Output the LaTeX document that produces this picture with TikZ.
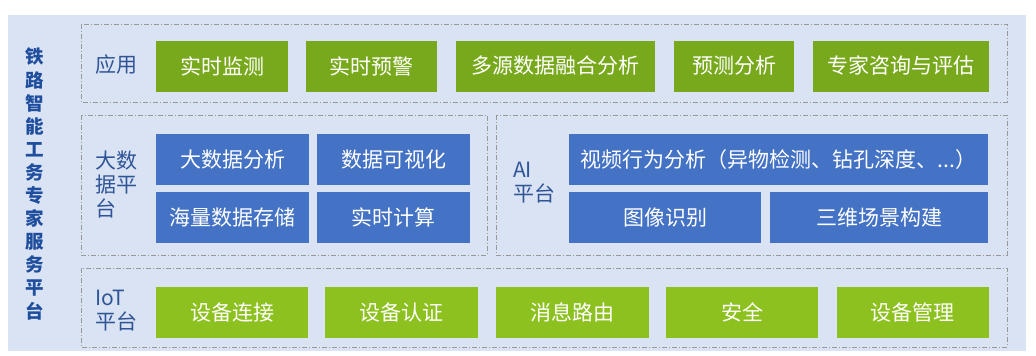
\documentclass[tikz,border=0pt]{standalone}
\usepackage{fontspec}
\setmainfont{Noto Sans CJK SC}
\usetikzlibrary{positioning}

\definecolor{panelblue}{HTML}{DAE3F3}
\definecolor{appgreen}{HTML}{78A91D}
\definecolor{iotgreen}{HTML}{8CC11F}
\definecolor{modblue}{HTML}{4472C4}
\definecolor{labelblue}{HTML}{2F5597}
\definecolor{titleblue}{HTML}{1F4E9E}

\begin{document}
\begin{tikzpicture}[
    x=1pt, y=-1pt,
    node distance=18pt,
    layer/.style={draw=gray!80, line width=0.6pt, dash pattern=on 5pt off 2pt on 1pt off 2pt},
    module/.style={rectangle, inner sep=0pt, minimum height=51pt, text=white, font=\fontsize{21}{24}\selectfont},
    appbox/.style={module, fill=appgreen},
    databox/.style={module, fill=modblue},
    iotbox/.style={module, fill=iotgreen},
    layername/.style={anchor=west, align=left, inner sep=0pt, text=labelblue, font=\fontsize{21}{24}\selectfont}
]
\useasboundingbox (0,0) rectangle (1036,356);

% background panel and layer frames
\fill [panelblue] (8,15) rectangle (1026,351);
\draw [layer] (81,24) rectangle (1007,102);
\draw [layer] (81,115) rectangle (487,255);
\draw [layer] (496,115) rectangle (1007,255);
\draw [layer] (81,268) rectangle (1007,347);

\node [text=titleblue, align=center, inner sep=0pt, font=\bfseries\fontsize{18.5}{23.1}\selectfont] (title) at (35,184)
    {铁\\路\\智\\能\\工\\务\\专\\家\\服\\务\\平\\台};

% application layer
\node [layername] (app) at (95,65) {应用};
\node [appbox, minimum width=132pt] (monitor) at (222,66) {实时监测};
\node [appbox, minimum width=131pt, right=of monitor] (warning) {实时预警};
\node [appbox, minimum width=199pt, right=of warning] (fusion) {多源数据融合分析};
\node [appbox, minimum width=120pt, right=19pt of fusion] (forecast) {预测分析};
\node [appbox, minimum width=176pt, right=of forecast] (expert) {专家咨询与评估};

% big data platform
\node [layername] (bigdata) at (95,184) {大数\\据平\\台};
\node [databox, minimum width=153pt] (analysis) at (232.5,159.5) {大数据分析};
\node [databox, minimum width=153pt, right=8pt of analysis] (visual) {数据可视化};
\node [databox, minimum width=153pt, below=7pt of analysis] (storage) {海量数据存储};
\node [databox, minimum width=153pt, right=8pt of storage] (compute) {实时计算};

% AI platform
\node [layername] (ai) at (513,183) {AI\\平台};
\node [databox, minimum width=419pt] (video) at (778.5,159.5) {视频行为分析（异物检测、钻孔深度、...）};
\node [databox, minimum width=192pt, below=7pt of video.south west, anchor=north west] (image) {图像识别};
\node [databox, minimum width=218pt, below=7pt of video.south east, anchor=north east] (scene) {三维场景构建};

% IoT platform
\node [layername] (iot) at (95,311) {IoT\\平台};
\node [iotbox, minimum width=152pt] (connect) at (232,312.5) {设备连接};
\node [iotbox, minimum width=153pt, right=17pt of connect] (auth) {设备认证};
\node [iotbox, minimum width=153pt, right=17pt of auth] (routing) {消息路由};
\node [iotbox, minimum width=152pt, right=17pt of routing] (security) {安全};
\node [iotbox, minimum width=152pt, right=of security] (device) {设备管理};
\end{tikzpicture}
\end{document}
